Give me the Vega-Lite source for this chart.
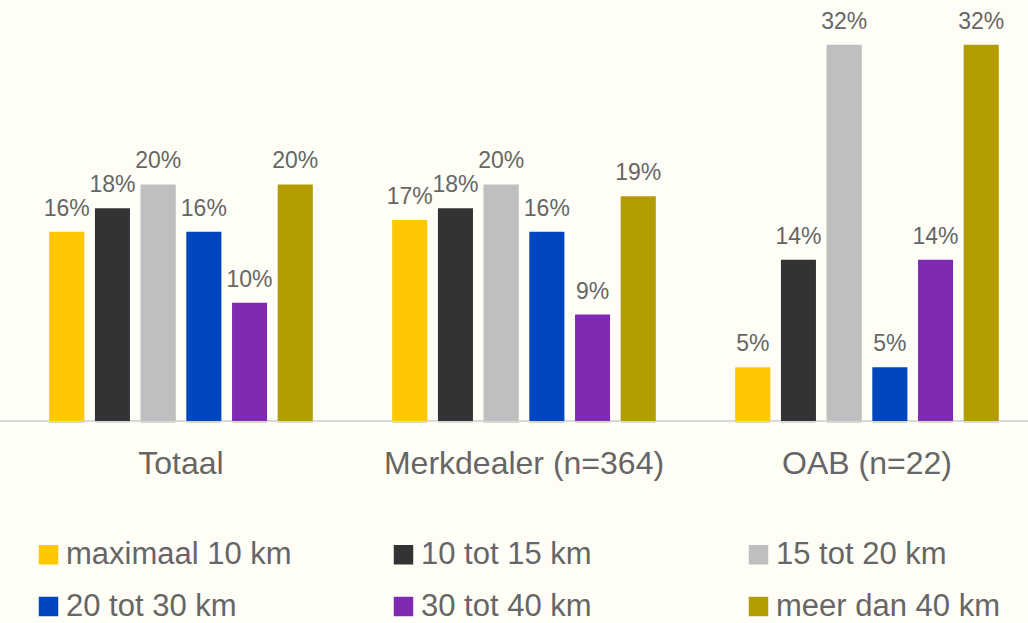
{
  "$schema": "https://vega.github.io/schema/vega-lite/v6.json",
  "width": 1028,
  "height": 421,
  "padding": {"left": 0, "top": 0, "right": 0, "bottom": 202},
  "autosize": {"type": "none"},
  "background": "#FFFEF6",
  "config": {
    "view": {"stroke": null},
    "font": "Liberation Sans",
    "text": {"font": "Liberation Sans"}
  },
  "data": {
    "values": [
      {"groep": "Totaal", "afstand": "maximaal 10 km", "aandeel": 0.16},
      {"groep": "Totaal", "afstand": "10 tot 15 km", "aandeel": 0.18},
      {"groep": "Totaal", "afstand": "15 tot 20 km", "aandeel": 0.20},
      {"groep": "Totaal", "afstand": "20 tot 30 km", "aandeel": 0.16},
      {"groep": "Totaal", "afstand": "30 tot 40 km", "aandeel": 0.10},
      {"groep": "Totaal", "afstand": "meer dan 40 km", "aandeel": 0.20},
      {"groep": "Merkdealer (n=364)", "afstand": "maximaal 10 km", "aandeel": 0.17},
      {"groep": "Merkdealer (n=364)", "afstand": "10 tot 15 km", "aandeel": 0.18},
      {"groep": "Merkdealer (n=364)", "afstand": "15 tot 20 km", "aandeel": 0.20},
      {"groep": "Merkdealer (n=364)", "afstand": "20 tot 30 km", "aandeel": 0.16},
      {"groep": "Merkdealer (n=364)", "afstand": "30 tot 40 km", "aandeel": 0.09},
      {"groep": "Merkdealer (n=364)", "afstand": "meer dan 40 km", "aandeel": 0.19},
      {"groep": "OAB (n=22)", "afstand": "maximaal 10 km", "aandeel": 0.0455},
      {"groep": "OAB (n=22)", "afstand": "10 tot 15 km", "aandeel": 0.1364},
      {"groep": "OAB (n=22)", "afstand": "15 tot 20 km", "aandeel": 0.3182},
      {"groep": "OAB (n=22)", "afstand": "20 tot 30 km", "aandeel": 0.0455},
      {"groep": "OAB (n=22)", "afstand": "30 tot 40 km", "aandeel": 0.1364},
      {"groep": "OAB (n=22)", "afstand": "meer dan 40 km", "aandeel": 0.3182}
    ]
  },
  "encoding": {
    "x": {
      "field": "groep",
      "type": "nominal",
      "sort": null,
      "scale": {"range": [9.5, 1038.5], "paddingInner": 0, "paddingOuter": 0},
      "axis": {
        "title": null,
        "domain": false,
        "ticks": false,
        "labelAngle": 0,
        "labelFontSize": 32,
        "labelColor": "#666666",
        "labelPadding": 27,
        "labelLimit": 500,
        "labelFont": "Liberation Sans"
      }
    },
    "xOffset": {
      "field": "afstand",
      "type": "nominal",
      "sort": null,
      "scale": {"paddingInner": 0.234, "paddingOuter": 0.87}
    },
    "y": {
      "field": "aandeel",
      "type": "quantitative",
      "scale": {"domain": [0, 0.356], "nice": false, "zero": true},
      "axis": null
    }
  },
  "layer": [
    {
      "mark": {"type": "bar", "color": "#000000", "opacity": 0.16, "xOffset": 5, "yOffset": 2},
      "encoding": {}
    },
    {
      "mark": {"type": "rule", "color": "#D9D9D9", "strokeWidth": 2},
      "encoding": {"x": null, "xOffset": null, "y": {"datum": 0}}
    },
    {
      "mark": {"type": "bar"},
      "encoding": {
        "color": {
          "field": "afstand",
          "type": "nominal",
          "scale": {
            "domain": ["maximaal 10 km", "10 tot 15 km", "15 tot 20 km", "20 tot 30 km", "30 tot 40 km", "meer dan 40 km"],
            "range": ["#FFC800", "#333333", "#BFBFBF", "#0047BF", "#7F2AB3", "#B39C00"]
          },
          "legend": {
            "title": null,
            "orient": "none",
            "legendX": 33,
            "legendY": 539,
            "direction": "horizontal",
            "columns": 3,
            "gridAlign": "all",
            "columnPadding": 96,
            "rowPadding": 20,
            "symbolType": "square",
            "symbolSize": 380,
            "symbolStrokeWidth": 0,
            "symbolOpacity": 1,
            "labelFontSize": 31,
            "labelFont": "Liberation Sans",
            "labelColor": "#666666",
            "labelOffset": 2,
            "labelLimit": 400
          }
        }
      }
    },
    {
      "mark": {"type": "text", "baseline": "bottom", "align": "center", "dy": -11, "fontSize": 23, "color": "#666666", "font": "Liberation Sans"},
      "encoding": {
        "text": {"field": "aandeel", "type": "quantitative", "format": ".0%"}
      }
    }
  ]
}
